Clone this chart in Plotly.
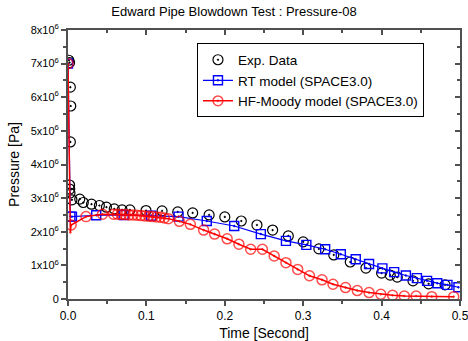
import plotly.graph_objects as go

# ---------------- data (pressure in 1e6 Pa) ----------------
exp_time = [0.001, 0.002, 0.003, 0.0035, 0.003, 0.002, 0.0022, 0.0025, 0.005,
            0.015, 0.0195, 0.030, 0.040, 0.049, 0.059, 0.069, 0.079, 0.0995,
            0.12, 0.14, 0.159, 0.18, 0.20, 0.221, 0.241, 0.261, 0.281, 0.30,
            0.32, 0.339, 0.36, 0.38, 0.40, 0.411, 0.42, 0.44, 0.46, 0.481]
exp_p = [7.1, 7.03, 6.3, 5.74, 4.67, 3.39, 3.27, 3.15, 2.95,
         2.97, 2.87, 2.82, 2.78, 2.73, 2.68, 2.65, 2.65, 2.63,
         2.62, 2.59, 2.56, 2.50, 2.44, 2.32, 2.20, 2.05, 1.875, 1.70,
         1.49, 1.31, 1.10, 0.92, 0.77, 0.71, 0.65, 0.54, 0.45, 0.42]

rt_time = [0.0, 0.003, 0.005, 0.036, 0.071, 0.106, 0.141, 0.177, 0.212, 0.246,
           0.278, 0.304, 0.328, 0.348, 0.367, 0.384, 0.401, 0.416, 0.431,
           0.445, 0.458, 0.471, 0.484, 0.498]
rt_p = [7.0, 2.45, 2.45, 2.49, 2.50, 2.48, 2.45, 2.32, 2.17, 1.93,
        1.73, 1.61, 1.48, 1.33, 1.18, 1.04, 0.91, 0.80, 0.70,
        0.62, 0.54, 0.47, 0.42, 0.35]

hf_time = [0.0, 0.003, 0.004, 0.023, 0.044, 0.058, 0.063, 0.068, 0.073, 0.078,
           0.083, 0.088, 0.093, 0.098, 0.103, 0.108, 0.113, 0.118, 0.123,
           0.128, 0.142, 0.156, 0.173, 0.187, 0.203, 0.218, 0.233, 0.248,
           0.263, 0.278, 0.293, 0.308, 0.324, 0.338, 0.354, 0.369, 0.384,
           0.399, 0.414, 0.429, 0.444, 0.464, 0.492]
hf_p = [7.0, 1.98, 2.2, 2.45, 2.52, 2.52, 2.52, 2.51, 2.51, 2.50,
        2.50, 2.49, 2.48, 2.47, 2.46, 2.45, 2.44, 2.43, 2.41,
        2.39, 2.31, 2.22, 2.05, 1.93, 1.79, 1.63, 1.48, 1.48,
        1.28, 1.08, 0.88, 0.69, 0.57, 0.44, 0.34, 0.25, 0.19,
        0.14, 0.11, 0.09, 0.09, 0.07, 0.07]

y_tickvals = [0, 1, 2, 3, 4, 5, 6, 7, 8]
y_ticktext = ["0", "1x10<sup>6</sup>", "2x10<sup>6</sup>", "3x10<sup>6</sup>",
              "4x10<sup>6</sup>", "5x10<sup>6</sup>", "6x10<sup>6</sup>",
              "7x10<sup>6</sup>", "8x10<sup>6</sup>"]
x_tickvals = [0.0, 0.1, 0.2, 0.3, 0.4, 0.5]
x_ticktext = ["0.0", "0.1", "0.2", "0.3", "0.4", "0.5"]

FONT = "Liberation Sans, Arial, sans-serif"
AX = "#505050"

fig = go.Figure()
fig.add_trace(go.Scatter(
    x=exp_time, y=exp_p, mode="markers", name="Exp. Data",
    marker=dict(symbol="circle-open-dot", size=10, color="black",
                line=dict(width=1.2, color="black"))))
fig.add_trace(go.Scatter(
    x=rt_time, y=rt_p, mode="lines+markers", name="RT model (SPACE3.0)",
    line=dict(color="#0000ff", width=1.2),
    marker=dict(symbol="square-open-dot", size=9, color="#0000ff",
                line=dict(width=1.4, color="#0000ff"))))
hf_sizes = [10] * len(hf_time)
hf_sizes[1] = 0
fig.add_trace(go.Scatter(
    x=hf_time, y=hf_p, mode="lines+markers", name="HF-Moody model (SPACE3.0)",
    line=dict(color="#ff0000", width=1.5),
    marker=dict(symbol="circle-open-dot", size=hf_sizes, color="#ff0000",
                line=dict(width=1.5, color="#ff0000"))))

common = dict(showgrid=False, zeroline=False, linecolor=AX, linewidth=2,
              tickcolor=AX, tickwidth=1.5, ticklen=5, automargin=False,
              ticklabeloverflow="allow",
              tickfont=dict(family=FONT, size=12, color="black"))

fig.update_layout(
    width=468, height=341,
    margin=dict(l=68, r=8, t=30, b=42, autoexpand=False),
    paper_bgcolor="white", plot_bgcolor="white",
    font=dict(family=FONT, color="black"),
    title=dict(text="Edward Pipe Blowdown Test : Pressure-08",
               x=0.5, xanchor="center", y=0.965, yanchor="middle",
               font=dict(family=FONT, size=13, color="black")),
    xaxis=dict(range=[0, 0.5], tickvals=x_tickvals, ticktext=x_ticktext,
               ticks="outside", mirror=True,
               minor=dict(dtick=0.05, tick0=0, ticks="outside", ticklen=3,
                          tickcolor=AX, tickwidth=1.5),
               title=dict(text="Time [Second]", standoff=6,
                          font=dict(family=FONT, size=14)),
               **common),
    yaxis=dict(range=[0, 8], tickvals=y_tickvals, ticktext=y_ticktext,
               ticks="outside", mirror=True,
               minor=dict(dtick=0.5, tick0=0, ticks="outside", ticklen=3,
                          tickcolor=AX, tickwidth=1.5),
               title=dict(text="Pressure [Pa]", standoff=8,
                          font=dict(family=FONT, size=14)),
               **{**common, "tickfont": dict(family=FONT, size=11, color="black")}),
    xaxis2=dict(range=[0, 0.5], overlaying="x", side="top", anchor="y",
                tickvals=x_tickvals, showticklabels=False, ticks="inside",
                minor=dict(dtick=0.05, tick0=0, ticks="inside", ticklen=3,
                           tickcolor=AX, tickwidth=1.5),
                showgrid=False, zeroline=False, showline=False, automargin=False,
                tickcolor=AX, tickwidth=1.5, ticklen=5),
    yaxis2=dict(range=[0, 8], overlaying="y", side="right", anchor="x",
                tickvals=y_tickvals, showticklabels=False, ticks="inside",
                minor=dict(dtick=0.5, tick0=0, ticks="inside", ticklen=3,
                           tickcolor=AX, tickwidth=1.5),
                showgrid=False, zeroline=False, showline=False, automargin=False,
                tickcolor=AX, tickwidth=1.5, ticklen=5),
    legend=dict(x=0.329, y=0.95, xanchor="left", yanchor="top",
                bordercolor="black", borderwidth=1, bgcolor="white",
                font=dict(family=FONT, size=13.5, color="black"),
                tracegroupgap=0, itemwidth=30),
    showlegend=True,
)
# invisible trace to activate the mirrored tick axes
fig.add_trace(go.Scatter(x=[0], y=[0], xaxis="x2", yaxis="y2", mode="none",
                         showlegend=False, hoverinfo="skip"))

fig.write_html("out.html")
